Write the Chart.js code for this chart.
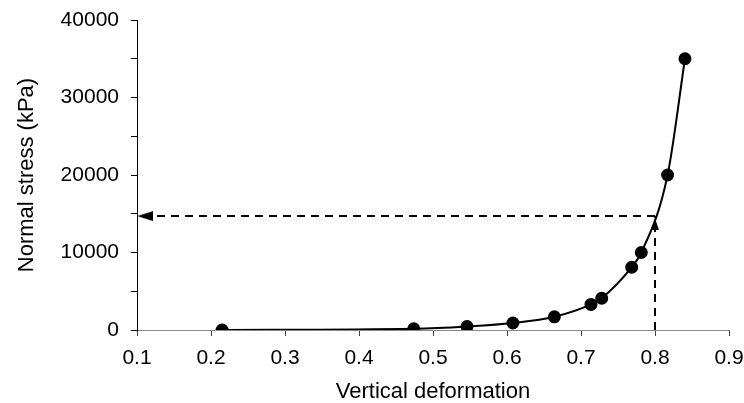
<!DOCTYPE html>
<html>
<head>
<meta charset="utf-8">
<script src="https://cdn.jsdelivr.net/npm/chart.js@4.4.0/dist/chart.umd.min.js"></script>
<style>
  html, body { margin: 0; padding: 0; background: #fff; }
  #wrap { width: 744px; height: 403px; }
</style>
</head>
<body>
<div id="wrap"><canvas id="myChart" width="744" height="403"></canvas></div>
<script>
// measured points (vertical deformation vs normal stress)
const deformation = [0.215, 0.474, 0.546, 0.608, 0.664, 0.7135, 0.728, 0.7685, 0.7815, 0.817, 0.8405];
const stress = [0, 150, 450, 900, 1700, 3300, 4100, 8100, 10000, 20000, 35000];

// read-off at a deformation of 0.8
const readDeformation = 0.8;
const readStress = 14700;
const xMin = 0.1;

// arrow heads (centre of each head)
const arrowLeftAt = [0.111, readStress];
const arrowUpAt = [readDeformation, 13650];

const xTicks = [0.1, 0.2, 0.3, 0.4, 0.5, 0.6, 0.7, 0.8, 0.9];
const yTicks = [0, 10000, 20000, 30000, 40000];

// small canvases used as arrow head point styles
function arrowHead(w, h, dir) {
  const c = document.createElement("canvas");
  c.width = w;
  c.height = h;
  const g = c.getContext("2d");
  g.fillStyle = "#000";
  g.beginPath();
  if (dir === "left") {
    g.moveTo(0, h / 2);
    g.lineTo(w, 0);
    g.lineTo(w, h);
  } else {
    g.moveTo(w / 2, 0);
    g.lineTo(w, h);
    g.lineTo(0, h);
  }
  g.closePath();
  g.fill();
  return c;
}

const font = "'Liberation Sans', Arial, sans-serif";

const ctx = document.getElementById("myChart").getContext("2d");
const myChart = new Chart(ctx, {
  type: "scatter",
  data: {
    datasets: [
      {
        data: deformation.map((d, i) => ({ x: d, y: stress[i] })),
        showLine: true,
        borderColor: "#000",
        backgroundColor: "#000",
        borderWidth: 2,
        pointRadius: 5.5,
        pointHoverRadius: 5.5,
        cubicInterpolationMode: "monotone",
      },
      {
        data: [
          { x: readDeformation, y: readStress },
          { x: xMin, y: readStress },
        ],
        showLine: true,
        borderColor: "#000",
        borderWidth: 2,
        borderDash: [8, 6],
        pointRadius: 0,
      },
      {
        data: [
          { x: readDeformation, y: 0 },
          { x: readDeformation, y: readStress },
        ],
        showLine: true,
        borderColor: "#000",
        borderWidth: 2,
        borderDash: [8, 6],
        pointRadius: 0,
      },
      {
        data: [{ x: arrowLeftAt[0], y: arrowLeftAt[1] }],
        pointStyle: arrowHead(16, 10, "left"),
        pointRadius: 8,
        clip: false,
      },
      {
        data: [{ x: arrowUpAt[0], y: arrowUpAt[1] }],
        pointStyle: arrowHead(8, 12, "up"),
        pointRadius: 8,
        clip: false,
      },
    ],
  },
  options: {
    responsive: false,
    animation: false,
    layout: { padding: 0 },
    plugins: {
      legend: { display: false },
      tooltip: { enabled: false },
    },
    scales: {
      x: {
        type: "linear",
        min: xTicks[0],
        max: xTicks[xTicks.length - 1],
        afterBuildTicks: (axis) => {
          axis.ticks = xTicks.map((v) => ({ value: v }));
        },
        afterFit: (axis) => {
          axis.height = 73;
          axis.paddingRight = 15;
          axis.paddingLeft = 0;
        },
        ticks: {
          color: "#000",
          font: { family: font, size: 21 },
          padding: 10,
          maxRotation: 0,
          callback: (v) => v.toFixed(1),
        },
        grid: { drawOnChartArea: false, tickLength: 6, color: "#444" },
        border: { color: "#888", width: 1 },
        title: {
          display: true,
          text: "Vertical deformation",
          color: "#000",
          font: { family: font, size: 22 },
          padding: { top: 0, bottom: -2 },
        },
      },
      y: {
        type: "linear",
        min: yTicks[0],
        max: yTicks[yTicks.length - 1],
        afterFit: (axis) => {
          axis.width = 137;
          axis.paddingTop = 20;
          axis.paddingBottom = 0;
        },
        ticks: {
          stepSize: 5000,
          color: "#000",
          font: { family: font, size: 21 },
          padding: 12,
          callback: (v) => (yTicks.includes(v) ? String(v) : ""),
        },
        grid: { drawOnChartArea: false, tickLength: 6, color: "#000" },
        border: { color: "#000", width: 1 },
        title: {
          display: true,
          text: "Normal stress (kPa)",
          color: "#000",
          font: { family: font, size: 22 },
          padding: { top: 14, bottom: 0 },
        },
      },
    },
  },
});
</script>
</body>
</html>
